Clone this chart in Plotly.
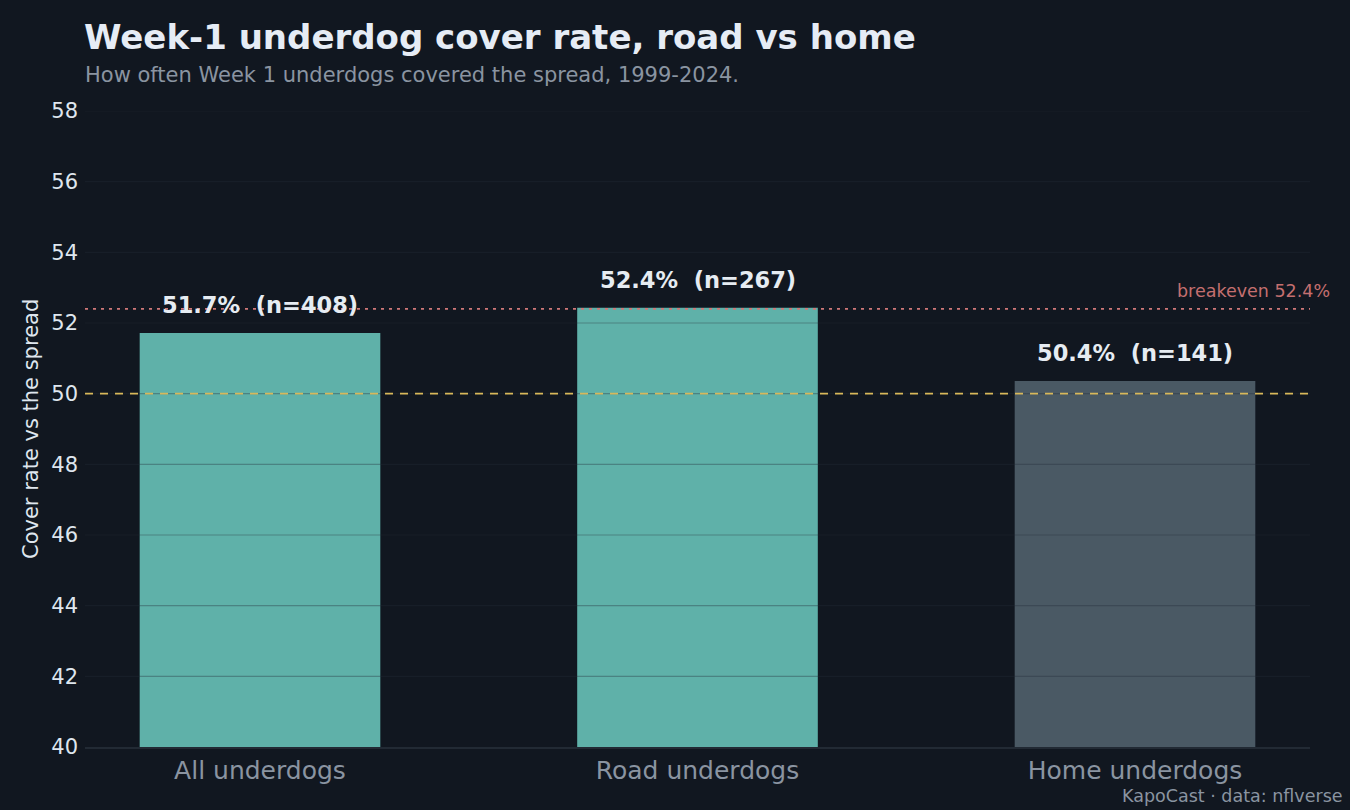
import plotly.graph_objects as go

categories = ["All underdogs", "Road underdogs", "Home underdogs"]
cover_rate = [51.72, 52.43, 50.36]
sample_n = [408, 267, 141]
bar_colors = ["#5fb1a9", "#5fb1a9", "#4a5964"]
y_ticks = [40, 42, 44, 46, 48, 50, 52, 54, 56, 58]
coin_flip = 50.0
breakeven = 52.4

BG = "#111720"
FONT = "DejaVu Sans"

fig = go.Figure()
fig.add_trace(go.Bar(
    x=categories, y=cover_rate, marker=dict(color=bar_colors, line=dict(width=0)),
    width=0.55, hoverinfo="skip", showlegend=False,
))

shapes = []
for t in y_ticks[1:]:
    shapes.append(dict(type="line", xref="paper", x0=0, x1=1, yref="y", y0=t, y1=t,
                       line=dict(color="rgba(35,45,55,0.34)", width=1.2), layer="above"))
shapes.append(dict(type="line", xref="paper", x0=0, x1=1, yref="y", y0=coin_flip, y1=coin_flip,
                   line=dict(color="#d8b85a", width=1.8, dash="8px,7px"), layer="above"))
shapes.append(dict(type="line", xref="paper", x0=0, x1=1, yref="y", y0=breakeven, y1=breakeven,
                   line=dict(color="#d07878", width=1.7, dash="3px,5px"), layer="above"))

annotations = []
for c, v, n in zip(categories, cover_rate, sample_n):
    annotations.append(dict(x=c, y=v, xref="x", yref="y", text=f"{v:.1f}%  (n={n})",
                            showarrow=False, yanchor="bottom", yshift=13,
                            font=dict(family=FONT, size=22.5, color="#e6ecf2", weight="bold")))
annotations += [
    dict(xref="paper", yref="paper", x=0, y=1, xanchor="left", yanchor="middle", yshift=74,
         xshift=-3,
         text="<b>Week-1 underdog cover rate, road vs home</b>", showarrow=False,
         font=dict(family=FONT, size=34, color="#e6ecf5")),
    dict(xref="paper", yref="paper", x=0, y=1, xanchor="left", yanchor="middle", yshift=36,
         xshift=-2,
         text="How often Week 1 underdogs covered the spread, 1999-2024.", showarrow=False,
         font=dict(family=FONT, size=21, color="#8a94a1")),
    dict(xref="paper", yref="y", x=1, y=breakeven, xanchor="right", yanchor="bottom",
         xshift=22, yshift=6, text="breakeven 52.4%", showarrow=False,
         font=dict(family=FONT, size=17.5, color="#c46f6f")),
    dict(xref="paper", yref="paper", x=1, y=0, xanchor="right", yanchor="middle",
         xshift=35, yshift=-49, text="KapoCast · data: nflverse", showarrow=False,
         font=dict(family=FONT, size=17.5, color="#8a94a1")),
    dict(xref="paper", yref="paper", x=0, y=0.5, xanchor="center", yanchor="middle",
         xshift=-54, textangle=-90, text="Cover rate vs the spread", showarrow=False,
         font=dict(family=FONT, size=21, color="#dfe6ee")),
]

fig.update_layout(
    width=1350, height=810,
    paper_bgcolor=BG, plot_bgcolor=BG,
    margin=dict(l=85, r=40, t=111, b=63),
    font=dict(family=FONT, color="#dfe6ee"),
    shapes=shapes, annotations=annotations,
    bargap=0.45,
    xaxis=dict(range=[-0.4, 2.4], showgrid=False, zeroline=False, showline=True,
               linecolor="#222a34", linewidth=2, ticks="",
               tickfont=dict(family=FONT, size=25, color="#8a94a1")),
    yaxis=dict(range=[40, 58], tickvals=y_ticks, showgrid=False, zeroline=False,
               showline=False, ticks="", ticklabelstandoff=6,
               tickfont=dict(family=FONT, size=21, color="#dfe6ee")),
)

fig.write_html(
    "out.html",
    config={"displayModeBar": False},
    post_script="document.body.style.margin='0';document.body.style.background='#111720';"
                "document.documentElement.style.overflow='hidden';",
)
